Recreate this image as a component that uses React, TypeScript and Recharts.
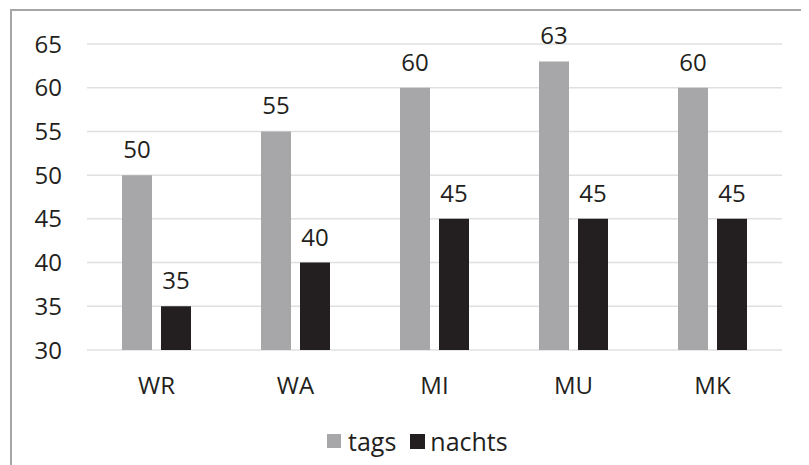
import React from "react";
import { BarChart, Bar, XAxis, YAxis, CartesianGrid, Legend, LabelList } from "recharts";

const categories = ["WR", "WA", "MI", "MU", "MK"];
const tagsValues = [50, 55, 60, 63, 60];
const nachtsValues = [35, 40, 45, 45, 45];
const yTicks = [30, 35, 40, 45, 50, 55, 60, 65];

const data = categories.map((c, i) => ({ name: c, tags: tagsValues[i], nachts: nachtsValues[i] }));

const FONT = "'Open Sans', sans-serif";
const TEXT = "#231f20";
const GRAY = "#a7a7a9";
const BLACK = "#231f20";

const LegendContent = () => (
  <div style={{ display: "flex", alignItems: "center", height: 30, fontFamily: FONT, fontSize: 25, color: TEXT, whiteSpace: "nowrap" }}>
    <span style={{ display: "inline-block", width: 14, height: 14, background: GRAY, marginRight: 7 }} />
    <span style={{ marginRight: 14 }}>tags</span>
    <span style={{ display: "inline-block", width: 15, height: 15, background: BLACK, marginRight: 5 }} />
    <span>nachts</span>
  </div>
);

export default function App() {
  return (
    <div style={{ position: "relative", width: 801, height: 457 }}>
      <div style={{ position: "absolute", left: 2, top: 1, width: 799, height: 2, background: "#a6a6a6" }} />
      <div style={{ position: "absolute", left: 2, top: 1, width: 2, height: 456, background: "#a6a6a6" }} />
      <BarChart
        width={801}
        height={457}
        data={data}
        margin={{ top: 36, right: 27, left: 0, bottom: 9 }}
        barSize={30}
        barGap={9}
      >
        <CartesianGrid vertical={false} stroke="#e0e0e0" strokeWidth={1.5} />
        <XAxis
          dataKey="name"
          axisLine={false}
          tickLine={false}
          tickSize={0}
          tickMargin={27}
          height={76}
          tick={{ fontFamily: FONT, fontSize: 24, fill: TEXT }}
        />
        <YAxis
          domain={[30, 65]}
          ticks={yTicks}
          interval={0}
          axisLine={false}
          tickLine={false}
          tickSize={0}
          tickMargin={25}
          width={79}
          tick={{ fontFamily: FONT, fontSize: 24, fill: TEXT }}
        />
        <Legend
          verticalAlign="bottom"
          content={<LegendContent />}
          wrapperStyle={{ top: 418, left: 319, width: 230, height: 30 }}
        />
        <Bar dataKey="tags" fill={GRAY} isAnimationActive={false}>
          <LabelList dataKey="tags" position="top" offset={17} style={{ fontFamily: FONT, fontSize: 24, fill: TEXT }} />
        </Bar>
        <Bar dataKey="nachts" fill={BLACK} isAnimationActive={false}>
          <LabelList dataKey="nachts" position="top" offset={17} style={{ fontFamily: FONT, fontSize: 24, fill: TEXT }} />
        </Bar>
      </BarChart>
    </div>
  );
}
